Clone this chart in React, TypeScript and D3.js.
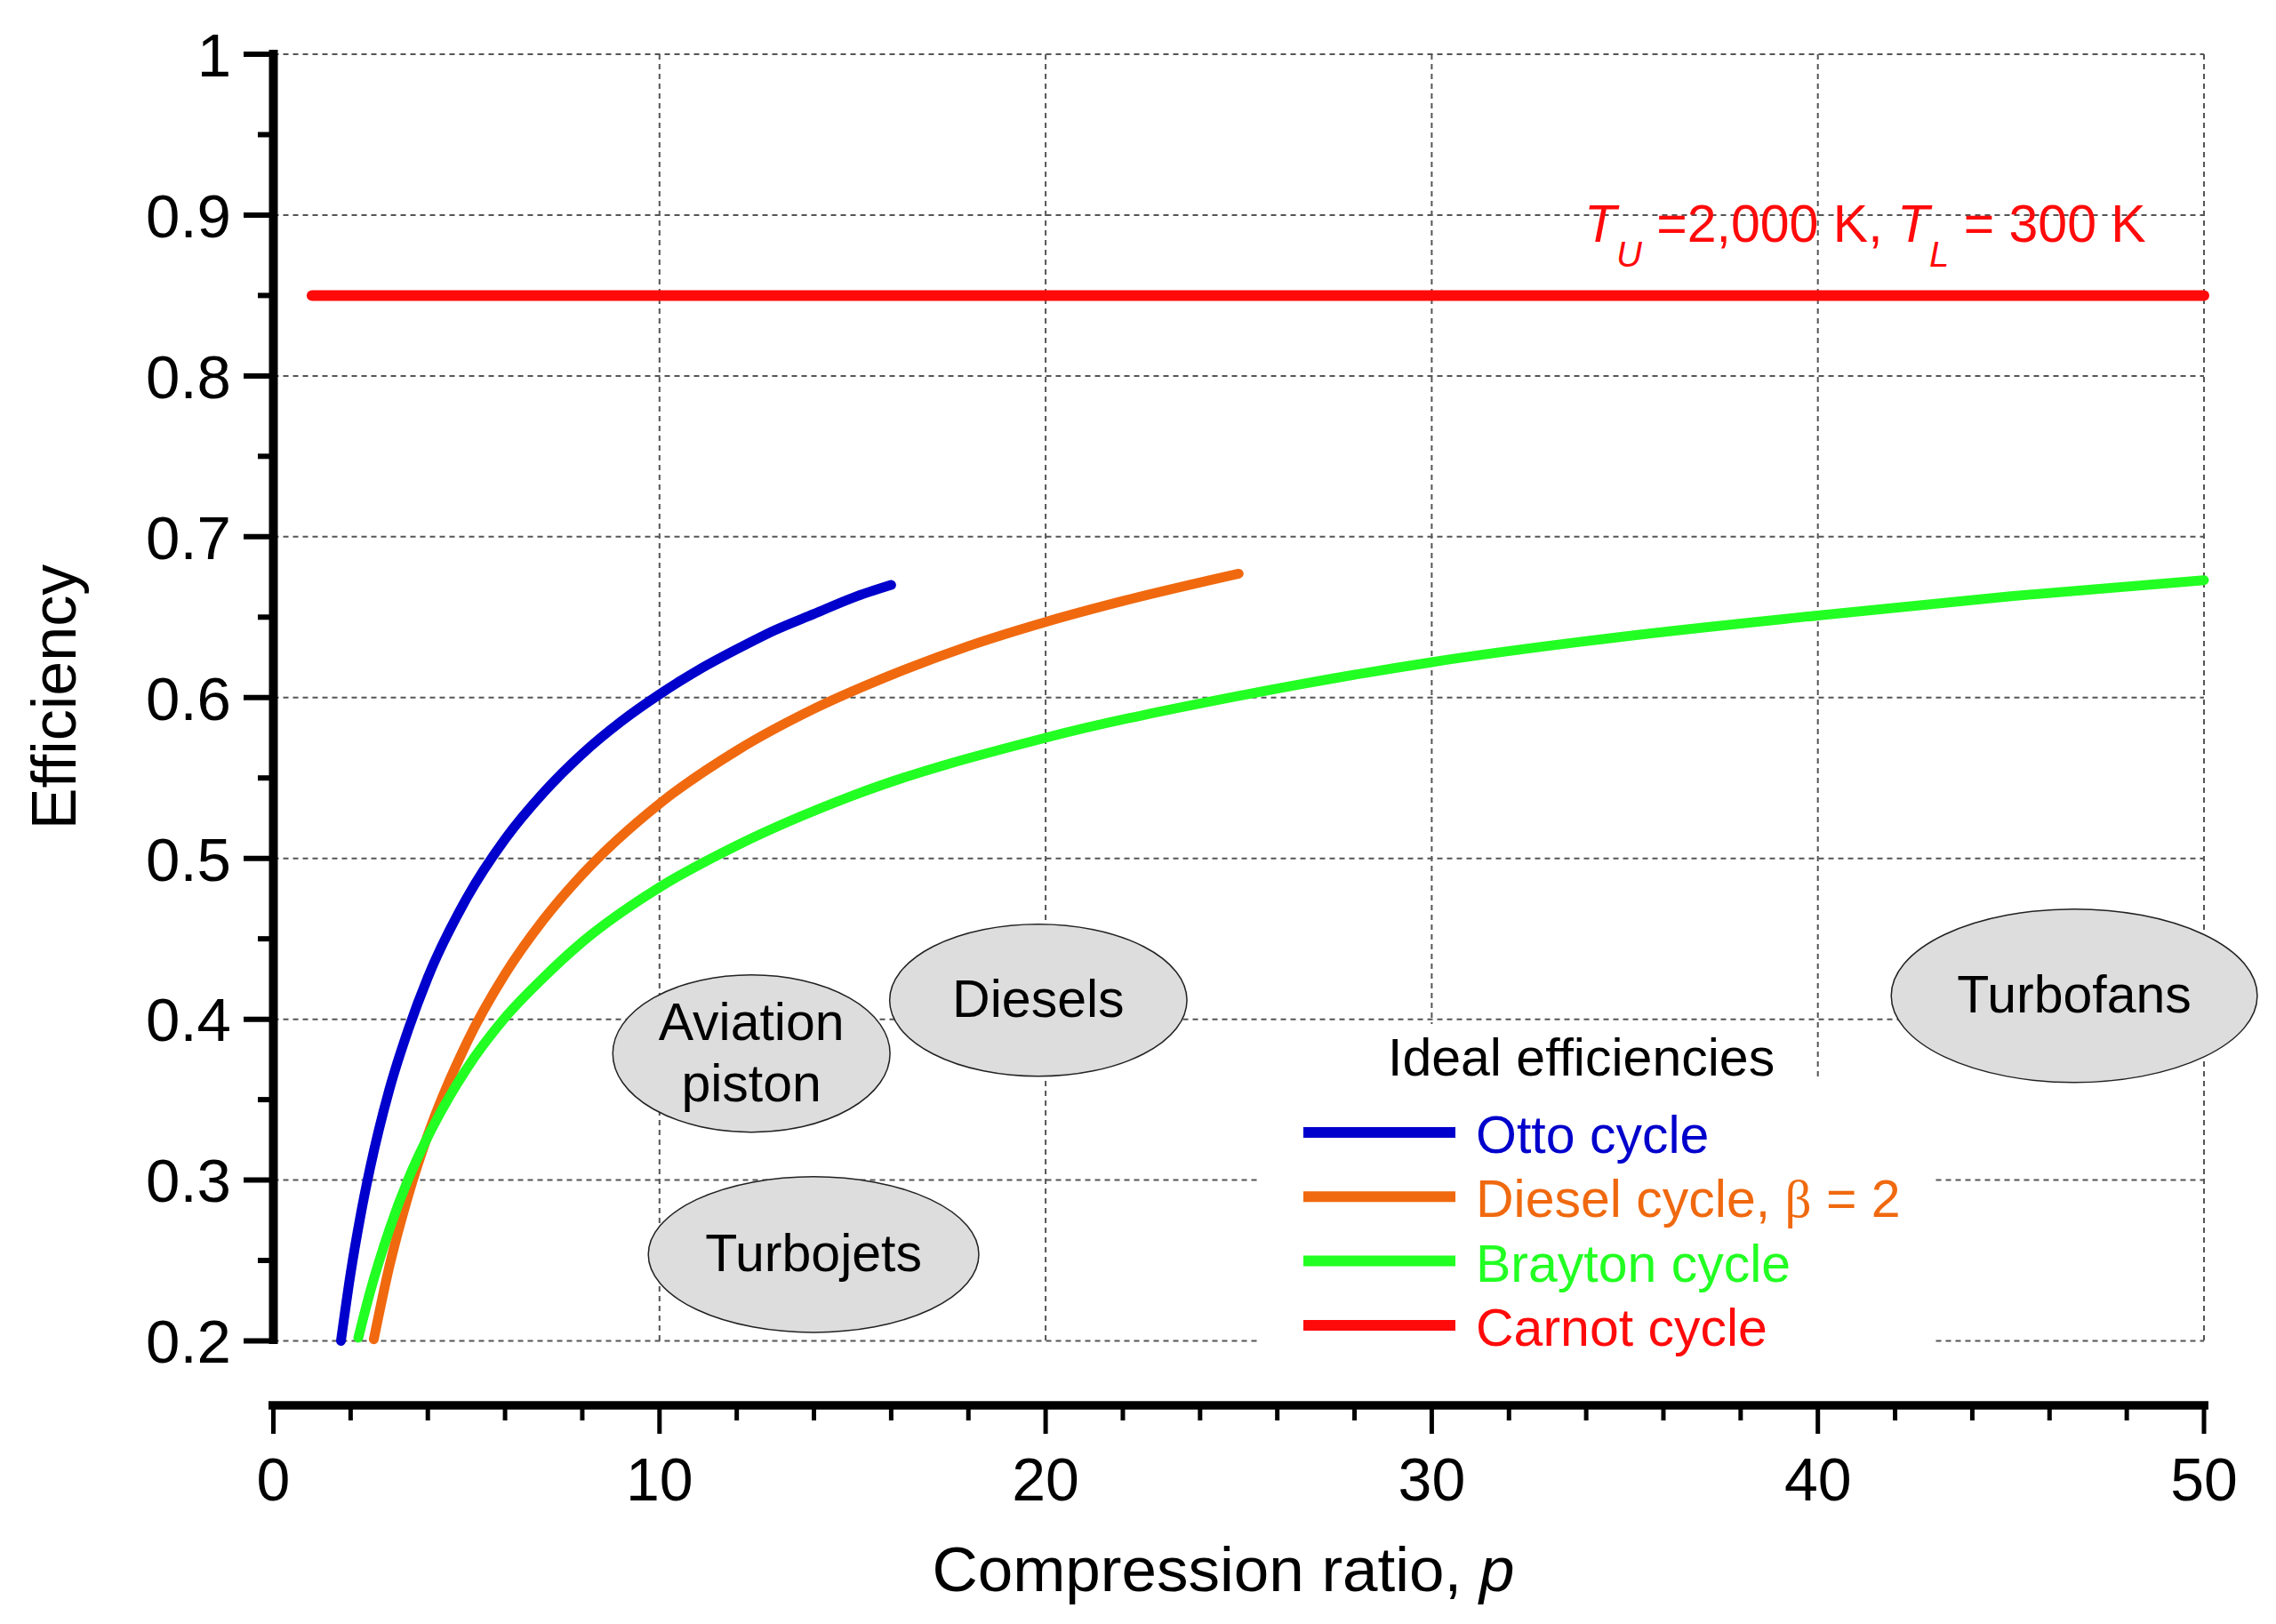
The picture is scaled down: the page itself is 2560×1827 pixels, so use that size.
import React from "react";
import * as d3 from "d3";

// ---- data ----
const ottoR = [1.75, 2, 2.25, 2.5, 3, 3.5, 4, 5, 6, 7, 8, 9, 10, 11, 12, 13, 14, 15, 16];
const ottoEff = [0.2, 0.242, 0.277, 0.307, 0.356, 0.394, 0.426, 0.475, 0.512, 0.541, 0.565, 0.585, 0.602, 0.617, 0.63, 0.642, 0.652, 0.662, 0.67];

const dieselR = [2.6, 3, 3.5, 4, 5, 6, 7, 8, 10, 12, 14, 16, 18, 20, 22, 25];
const dieselEff = [0.201, 0.246, 0.291, 0.328, 0.385, 0.428, 0.462, 0.49, 0.534, 0.567, 0.593, 0.614, 0.632, 0.647, 0.66, 0.677];

const braytonP = [2.2, 2.5, 3, 3.5, 4, 5, 6, 7, 8, 10, 12, 15, 20, 25, 30, 35, 40, 45, 50];
const braytonEff = [0.202, 0.23, 0.269, 0.301, 0.327, 0.369, 0.401, 0.426, 0.448, 0.482, 0.508, 0.539, 0.575, 0.601, 0.622, 0.638, 0.651, 0.663, 0.673];

const carnotP = [1, 50];
const carnotEff = [0.85, 0.85];

const xTicks = [0, 10, 20, 30, 40, 50];
const yTicks = [0.2, 0.3, 0.4, 0.5, 0.6, 0.7, 0.8, 0.9, 1];
const xMinor = d3.range(0, 51, 2);
const yMinor = d3.range(0.2, 1.0001, 0.05);

const regionLabels = [["Aviation", "piston"], ["Diesels"], ["Turbojets"], ["Turbofans"]];
const regionCx = [12.38, 19.81, 13.99, 46.64];
const regionCy = [0.3787, 0.4118, 0.2537, 0.4146];
const regionRx = [3.59, 3.85, 4.28, 4.74];
const regionRy = [0.0489, 0.0473, 0.0484, 0.0539];

const legendNames = ["Otto cycle", "Diesel cycle, ", "Brayton cycle", "Carnot cycle"];
const colors = ["#0000CC", "#F0690F", "#22FF22", "#FF0A0A"];

const FONT = "'Liberation Sans', Arial, Helvetica, sans-serif";

export default function App() {
  const W = 2560, H = 1827;
  const x = d3.scaleLinear().domain([0, 50]).range([307.5, 2479]);
  const y = d3.scaleLinear().domain([0.2, 1]).range([1508.5, 61]);
  const line = d3.line<[number, number]>().x(d => x(d[0])).y(d => y(d[1])).curve(d3.curveMonotoneX);
  const zip = (a: number[], b: number[]) => a.map((v, i) => [v, b[i]] as [number, number]);
  const series = [zip(ottoR, ottoEff), zip(dieselR, dieselEff), zip(braytonP, braytonEff)];
  const gridColor = "#555";
  const dash = "6,5";
  const axisY = 1581;
  const axisX = 307.5;

  return (
    <svg width={W} height={H} style={{ position: "absolute", left: 0, top: 0, background: "#fff" }} fontFamily={FONT}>
      <rect x={0} y={0} width={W} height={H} fill="#fff" />
      {/* grid */}
      {yTicks.map(t => (
        <line key={"gy" + t} x1={axisX} x2={x(50)} y1={y(t)} y2={y(t)} stroke={gridColor} strokeWidth={2} strokeDasharray={dash} />
      ))}
      {xTicks.filter(t => t > 0).map(t => (
        <line key={"gx" + t} x1={x(t)} x2={x(t)} y1={y(1)} y2={y(0.2)} stroke={gridColor} strokeWidth={2} strokeDasharray={dash} />
      ))}
      {/* region ellipses */}
      {regionLabels.map((lbl, i) => {
        const cx = x(regionCx[i]);
        const cy = y(regionCy[i]);
        const rx = x(regionCx[i] + regionRx[i]) - cx;
        const ry = cy - y(regionCy[i] + regionRy[i]);
        return (
          <g key={"reg" + i}>
            <ellipse cx={cx} cy={cy} rx={rx} ry={ry} fill="#DCDDDC" stroke="#222" strokeWidth={1.5} />
            {lbl.map((s, j) => (
              <text key={j} x={cx} y={cy + (lbl.length === 1 ? 19 : -15 + j * 69)} textAnchor="middle" fontSize={59} fill="#000">{s}</text>
            ))}
          </g>
        );
      })}
      {/* legend backgrounds */}
      <rect x={1540} y={1152} width={495} height={70} fill="#fff" />
      <rect x={1418} y={1212} width={758} height={325} fill="#fff" />
      {/* curves */}
      {series.map((s, i) => (
        <path key={"s" + i} d={line(s) || ""} fill="none" stroke={colors[i]} strokeWidth={11} strokeLinecap="round" strokeLinejoin="round" />
      ))}
      <path d={line(zip(carnotP, carnotEff)) || ""} fill="none" stroke={colors[3]} strokeWidth={12} strokeLinecap="round" />
      {/* Carnot label */}
      <text x={1782} y={272} fontSize={59} fill={colors[3]} style={{ whiteSpace: "pre" }}>
        <tspan fontStyle="italic">T</tspan>
        <tspan fontStyle="italic" fontSize={40} dy={28}>U</tspan>
        <tspan dy={-28}>{" =2,000 K, "}</tspan>
        <tspan fontStyle="italic">T</tspan>
        <tspan fontStyle="italic" fontSize={40} dy={28}>L</tspan>
        <tspan dy={-28}>{" = 300 K"}</tspan>
      </text>
      {/* legend */}
      <text x={1561} y={1210} fontSize={59} fill="#000">Ideal efficiencies</text>
      {legendNames.map((n, i) => (
        <g key={"lg" + i}>
          <line x1={1466} x2={1637} y1={1274 + i * 72.3} y2={1274 + i * 72.3} stroke={colors[i]} strokeWidth={12} />
          <text x={1660} y={1297 + i * 72.3} fontSize={59} fill={colors[i]} style={{ whiteSpace: "pre" }}>
            {n}
            {i === 1 ? <tspan fontFamily="'Liberation Serif', 'Times New Roman', serif">β</tspan> : null}
            {i === 1 ? " = 2" : null}
          </text>
        </g>
      ))}
      {/* Y axis */}
      <line x1={axisX} x2={axisX} y1={56} y2={1512} stroke="#000" strokeWidth={10} />
      {yMinor.map((t, i) => {
        const major = i % 2 === 0;
        return <line key={"ym" + i} x1={major ? 274 : 290} x2={axisX} y1={y(t)} y2={y(t)} stroke="#000" strokeWidth={6} />;
      })}
      {yTicks.map(t => (
        <text key={"yl" + t} x={260} y={y(t)} dy="0.36em" textAnchor="end" fontSize={69} fill="#000">{t === 1 ? "1" : t.toFixed(1)}</text>
      ))}
      {/* X axis */}
      <line x1={302} x2={2484} y1={axisY} y2={axisY} stroke="#000" strokeWidth={9.5} />
      {xMinor.map(t => {
        const major = t % 10 === 0;
        return <line key={"xm" + t} x1={x(t)} x2={x(t)} y1={axisY} y2={major ? 1613 : 1598} stroke="#000" strokeWidth={5} />;
      })}
      {xTicks.map(t => (
        <text key={"xl" + t} x={x(t)} y={1688} textAnchor="middle" fontSize={68} fill="#000">{t}</text>
      ))}
      {/* axis titles */}
      <text x={1376} y={1790} textAnchor="middle" fontSize={71} fill="#000" style={{ whiteSpace: "pre" }}>
        {"Compression ratio, "}<tspan fontStyle="italic">p</tspan>
      </text>
      <text transform="translate(85,784) rotate(-90)" textAnchor="middle" fontSize={70} fill="#000">Efficiency</text>
    </svg>
  );
}
